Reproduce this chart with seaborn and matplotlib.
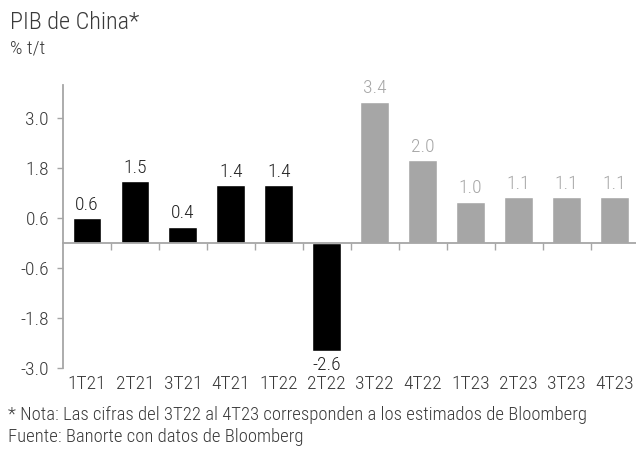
import matplotlib
matplotlib.use("Agg")
import matplotlib.pyplot as plt
import seaborn as sns
import pandas as pd
from matplotlib.ticker import FixedLocator

categories = ["1T21", "2T21", "3T21", "4T21", "1T22", "2T22",
              "3T22", "4T22", "1T23", "2T23", "3T23", "4T23"]
values = [0.6, 1.5, 0.4, 1.4, 1.4, -2.6, 3.4, 2.0, 1.0, 1.1, 1.1, 1.1]
kind = ["obs"] * 6 + ["est"] * 6
yticks = [-3.0, -1.8, -0.6, 0.6, 1.8, 3.0]

sns.set_style("white")
plt.rcParams["font.family"] = ["Roboto Condensed", "DejaVu Sans"]
plt.rcParams["font.weight"] = 300

TXT = "#3a3a3a"
GRAY = "#a6a6a6"

df = pd.DataFrame({"cat": categories, "val": values, "kind": kind})

fig = plt.figure(figsize=(6.36, 4.51), dpi=100)
ax = fig.add_axes([0.099, 0.184, 0.905, 0.6275])

sns.barplot(data=df, x="cat", y="val", hue="kind", order=categories,
            palette={"obs": "black", "est": GRAY}, dodge=False,
            width=0.6, legend=False, ax=ax, saturation=1)

ax.set_ylim(-3.0, 3.8)
ax.set_xlim(-0.5, 11.5)
ax.set_yticks(yticks)
ax.set_yticklabels([f"{v:.1f}" for v in yticks])
ax.set_xlabel("")
ax.set_ylabel("")

for s in ["top", "right"]:
    ax.spines[s].set_visible(False)
ax.spines["left"].set_color(GRAY)
ax.spines["left"].set_linewidth(1.3)
ax.spines["bottom"].set_position(("data", 0))
ax.spines["bottom"].set_color(GRAY)
ax.spines["bottom"].set_linewidth(1.3)

ax.tick_params(axis="y", length=4, width=1, color=GRAY, labelsize=14,
               labelcolor=TXT, pad=6, left=True)
ax.xaxis.set_minor_locator(FixedLocator([i + 0.5 for i in range(len(categories) - 1)]))
ax.tick_params(axis="x", which="minor", length=5, width=1, color=GRAY,
               direction="out", bottom=True)
ax.tick_params(axis="x", which="major", length=0, labelbottom=False)

sec = ax.secondary_xaxis("bottom")
sec.set_xticks(range(len(categories)))
sec.set_xticklabels(categories)
sec.tick_params(length=0, labelsize=14, labelcolor=TXT, pad=5)
sec.spines["bottom"].set_visible(False)

for i, (v, k) in enumerate(zip(values, kind)):
    tcol = "#222222" if k == "obs" else GRAY
    if v >= 0:
        ax.annotate(f"{v:.1f}", (i, v), xytext=(0, 3), textcoords="offset points",
                    ha="center", va="bottom", fontsize=14, color=tcol)
    else:
        ax.annotate(f"{v:.1f}", (i, v), xytext=(0, -3), textcoords="offset points",
                    ha="center", va="top", fontsize=14, color=tcol)

fig.text(0.016, 0.975, "PIB de China*", fontsize=17.5, color=TXT, va="top", ha="left")
fig.text(0.016, 0.912, "% t/t", fontsize=14, color=TXT, va="top", ha="left")
fig.text(0.013, 0.080, "* Nota: Las cifras del 3T22 al 4T23 corresponden a los estimados de Bloomberg",
         fontsize=13.4, color=TXT, va="center", ha="left")
fig.text(0.013, 0.031, "Fuente: Banorte con datos de Bloomberg",
         fontsize=13.4, color=TXT, va="center", ha="left")

fig.savefig("out.png", dpi=100)
